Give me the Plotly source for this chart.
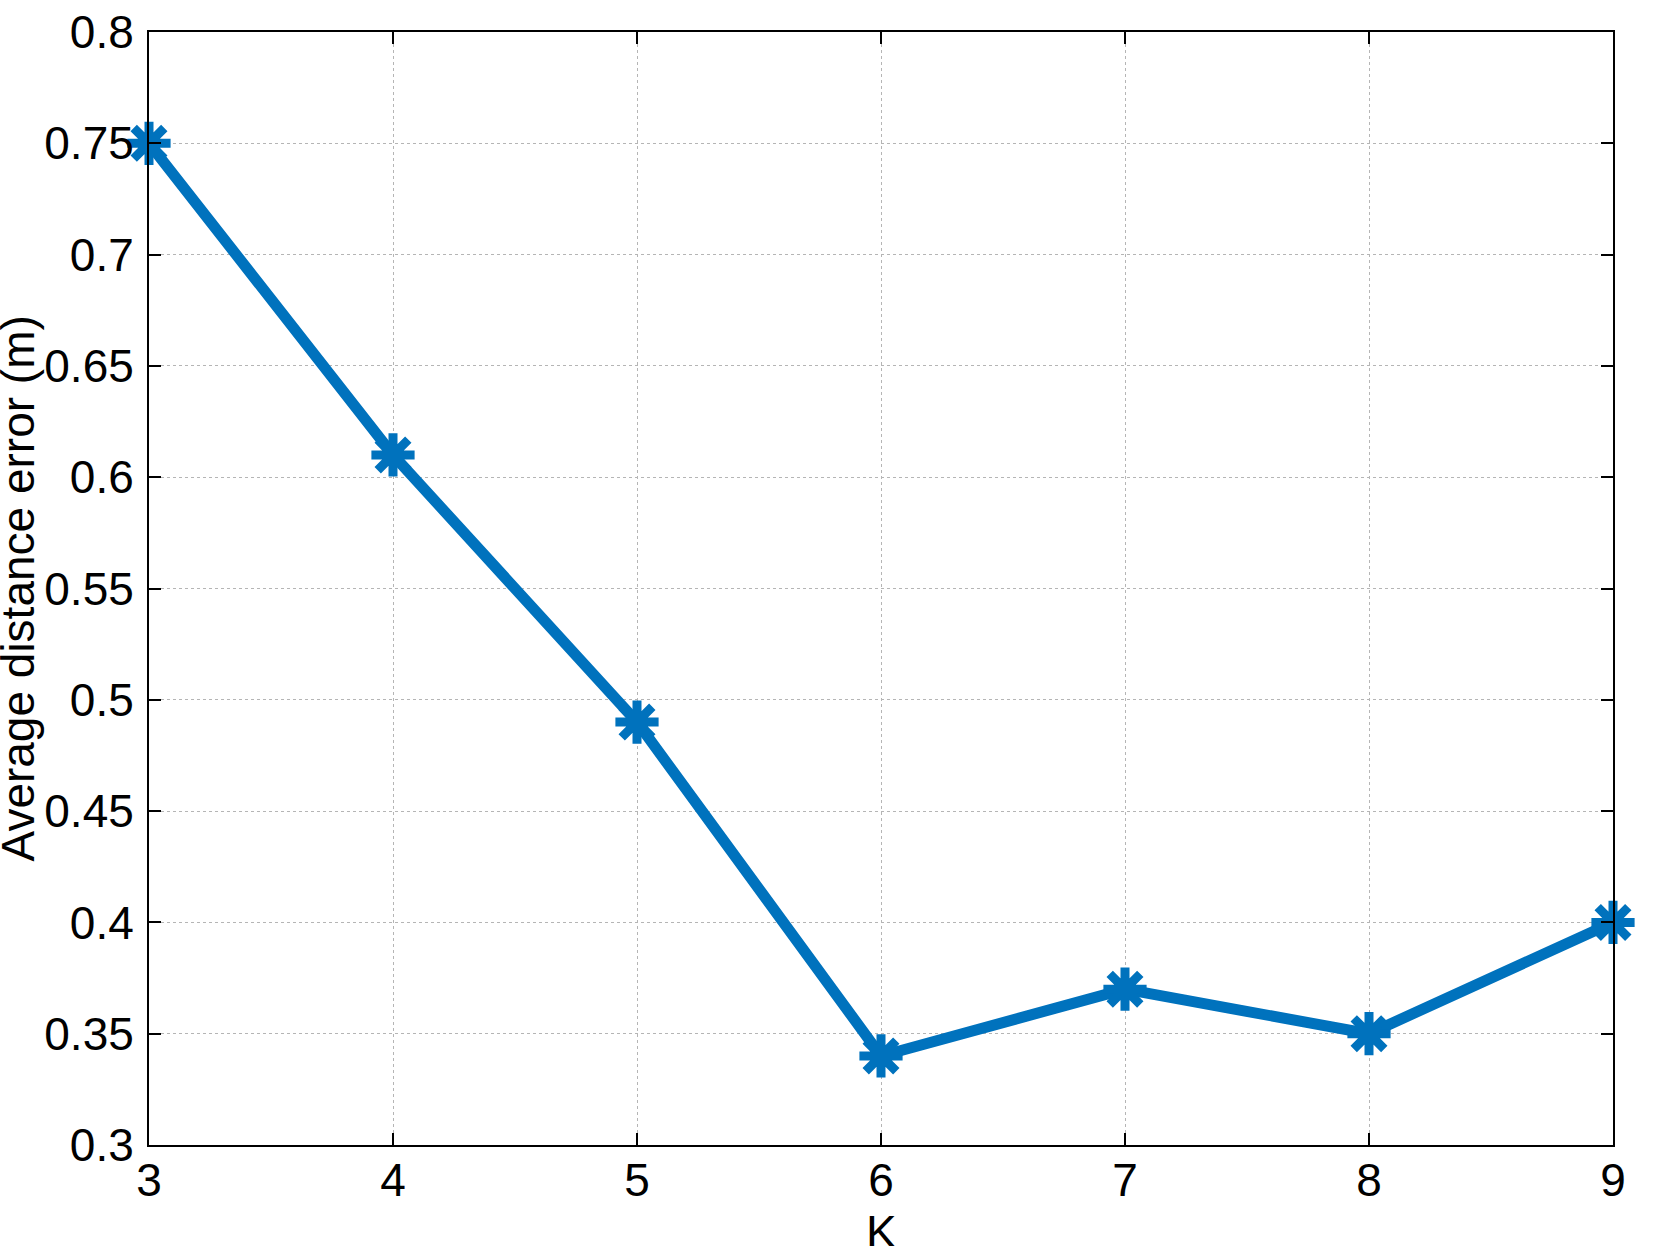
import plotly.graph_objects as go

k_values = [3, 4, 5, 6, 7, 8, 9]
avg_error = [0.75, 0.61, 0.49, 0.34, 0.37, 0.35, 0.40]

y_ticks = [0.3, 0.35, 0.4, 0.45, 0.5, 0.55, 0.6, 0.65, 0.7, 0.75, 0.8]
y_ticktext = ["0.3", "0.35", "0.4", "0.45", "0.5", "0.55", "0.6", "0.65", "0.7", "0.75", "0.8"]
x_ticktext = ["3", "4", "5", "6", "7", "8", "9"]

BLUE = "#0072BD"
FONT = "Liberation Sans"

fig = go.Figure()
fig.add_trace(
    go.Scatter(
        x=k_values,
        y=avg_error,
        mode="lines+markers",
        line=dict(color=BLUE, width=11),
        marker=dict(
            symbol="asterisk-open",
            size=36,
            color=BLUE,
            line=dict(color=BLUE, width=9),
        ),
        cliponaxis=False,
        showlegend=False,
    )
)

axis_common = dict(
    showline=True,
    linecolor="black",
    linewidth=2,
    mirror="ticks",
    ticks="inside",
    ticklen=12,
    tickwidth=2,
    tickcolor="black",
    showgrid=True,
    gridcolor="#b5b5b5",
    gridwidth=1,
    griddash="dot",
    zeroline=False,
    ticklabeloverflow="allow",
    tickfont=dict(family=FONT, size=46, color="black"),
)

fig.update_xaxes(
    range=[3, 9],
    tickvals=k_values,
    ticktext=x_ticktext,
    ticklabelstandoff=-6,
    **axis_common,
)
fig.update_yaxes(
    range=[0.3, 0.8],
    tickvals=y_ticks,
    ticktext=y_ticktext,
    ticklabelstandoff=4,
    **axis_common,
)

fig.add_annotation(
    text="Average distance error (m)",
    xref="paper", yref="paper",
    x=-0.0895, y=0.5,
    xanchor="center", yanchor="middle",
    textangle=-90,
    showarrow=False,
    font=dict(family=FONT, size=46, color="black"),
)
fig.add_annotation(
    text="K",
    xref="paper", yref="paper",
    x=0.5, y=-0.053,
    xanchor="center", yanchor="top",
    showarrow=False,
    font=dict(family=FONT, size=46, color="black"),
)

fig.update_layout(
    width=1661,
    height=1246,
    margin=dict(l=149, r=48, t=32, b=101, autoexpand=False),
    paper_bgcolor="white",
    plot_bgcolor="white",
)

# drop the default body margin so the figure fills the window exactly
fig.write_html(
    "out.html",
    config={"displayModeBar": False},
    post_script="document.body.style.margin = '0';",
)
